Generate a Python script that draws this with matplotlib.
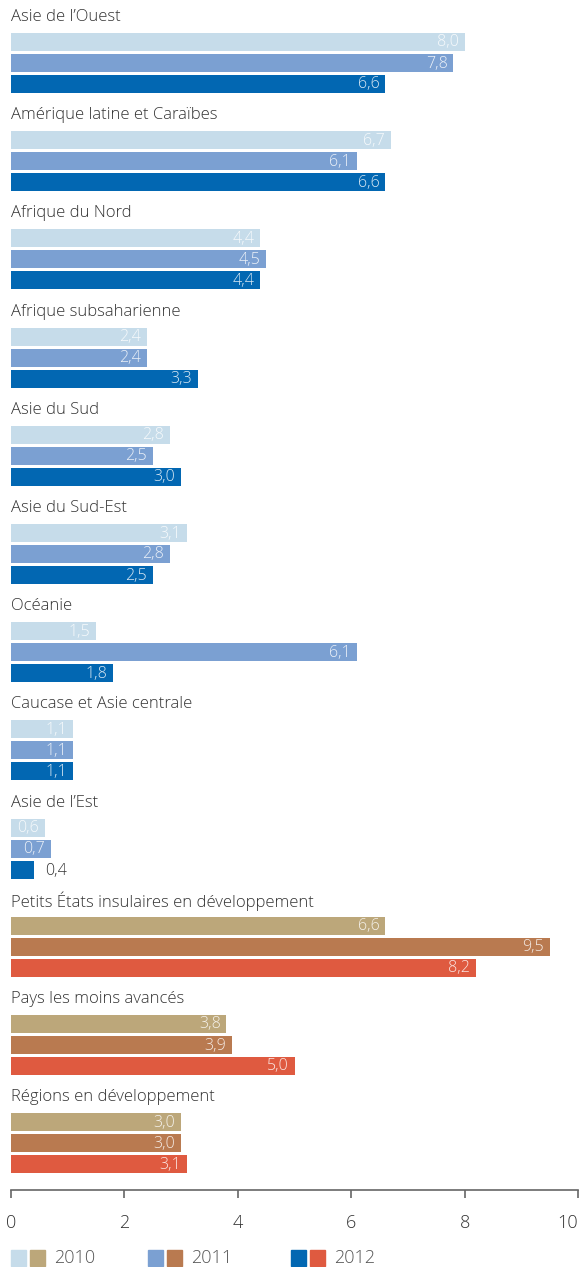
import matplotlib
matplotlib.use('Agg')
import matplotlib.pyplot as plt
from matplotlib.patches import Rectangle

plt.rcParams['font.family'] = ['Open Sans', 'DejaVu Sans']
plt.rcParams['font.weight'] = 'light'

regions = ['Asie de l\u2019Ouest', 'Amérique latine et Caraïbes', 'Afrique du Nord',
           'Afrique subsaharienne', 'Asie du Sud', 'Asie du Sud-Est', 'Océanie',
           'Caucase et Asie centrale', 'Asie de l\u2019Est',
           'Petits États insulaires en développement', 'Pays les moins avancés',
           'Régions en développement']
v2010 = [8.0, 6.7, 4.4, 2.4, 2.8, 3.1, 1.5, 1.1, 0.6, 6.6, 3.8, 3.0]
v2011 = [7.8, 6.1, 4.5, 2.4, 2.5, 2.8, 6.1, 1.1, 0.7, 9.5, 3.9, 3.0]
v2012 = [6.6, 6.6, 4.4, 3.3, 3.0, 2.5, 1.8, 1.1, 0.4, 8.2, 5.0, 3.1]
years = ['2010', '2011', '2012']
n_blue = 9  # first groups use blue shades, the rest warm shades

blues = ['#c6dcea', '#7ba0d2', '#0267b2']
warms = ['#bca77a', '#b97a50', '#df5a40']

W, H = 581, 1267
fig = plt.figure(figsize=(W / 100, H / 100), dpi=100)
ax_bottom = 1190
ax = fig.add_axes([11 / W, 1 - ax_bottom / H, (578 - 11) / W, ax_bottom / H])
ax.set_xlim(0, 10)
ax.set_ylim(ax_bottom, 0)

step = 98.2
series = [v2010, v2011, v2012]
for i, name in enumerate(regions):
    base = step * i
    ax.text(0, base + 17, name, fontsize=12, color='#333333', va='center', ha='left')
    cols = blues if i < n_blue else warms
    for j, vals in enumerate(series):
        v = vals[i]
        yc = base + 42 + 21 * j
        ax.barh(yc, v, height=18, color=cols[j], edgecolor='none')
        lab = f'{v:.1f}'.replace('.', ',')
        if v >= 0.5:
            ax.text(v - 0.1, yc + 0.5, lab, fontsize=11.5, color='white', alpha=0.85,
                    va='center', ha='right')
        else:
            ax.text(v + 0.2, yc + 1, lab, fontsize=11.5, color='#333333',
                    va='center', ha='left')

for s in ['top', 'right', 'left']:
    ax.spines[s].set_visible(False)
ax.spines['bottom'].set_color('#666666')
ax.spines['bottom'].set_linewidth(1.2)
ax.set_yticks([])
ax.set_xticks([0, 2, 4, 6, 8, 10])
ax.tick_params(axis='x', direction='out', length=6, width=1.2, color='#666666',
               pad=11, labelsize=13, labelcolor='#333333')
labels = ax.get_xticklabels()
labels[-1].set_ha('right')
labels[-1].set_x(10.05)

# legend
leg_y = 1258
leg_x = [11, 148, 291]
for k, yr in enumerate(years):
    x0 = leg_x[k]
    for m, c in enumerate([blues[k], warms[k]]):
        fig.patches.append(Rectangle(((x0 + 19 * m) / W, 1 - (leg_y + 8) / H), 15 / W, 16 / H,
                                     transform=fig.transFigure, color=c))
    fig.text((x0 + 43) / W, 1 - leg_y / H, yr, fontsize=13, color='#555555',
             va='center', ha='left')

fig.savefig('out.png', dpi=100)
